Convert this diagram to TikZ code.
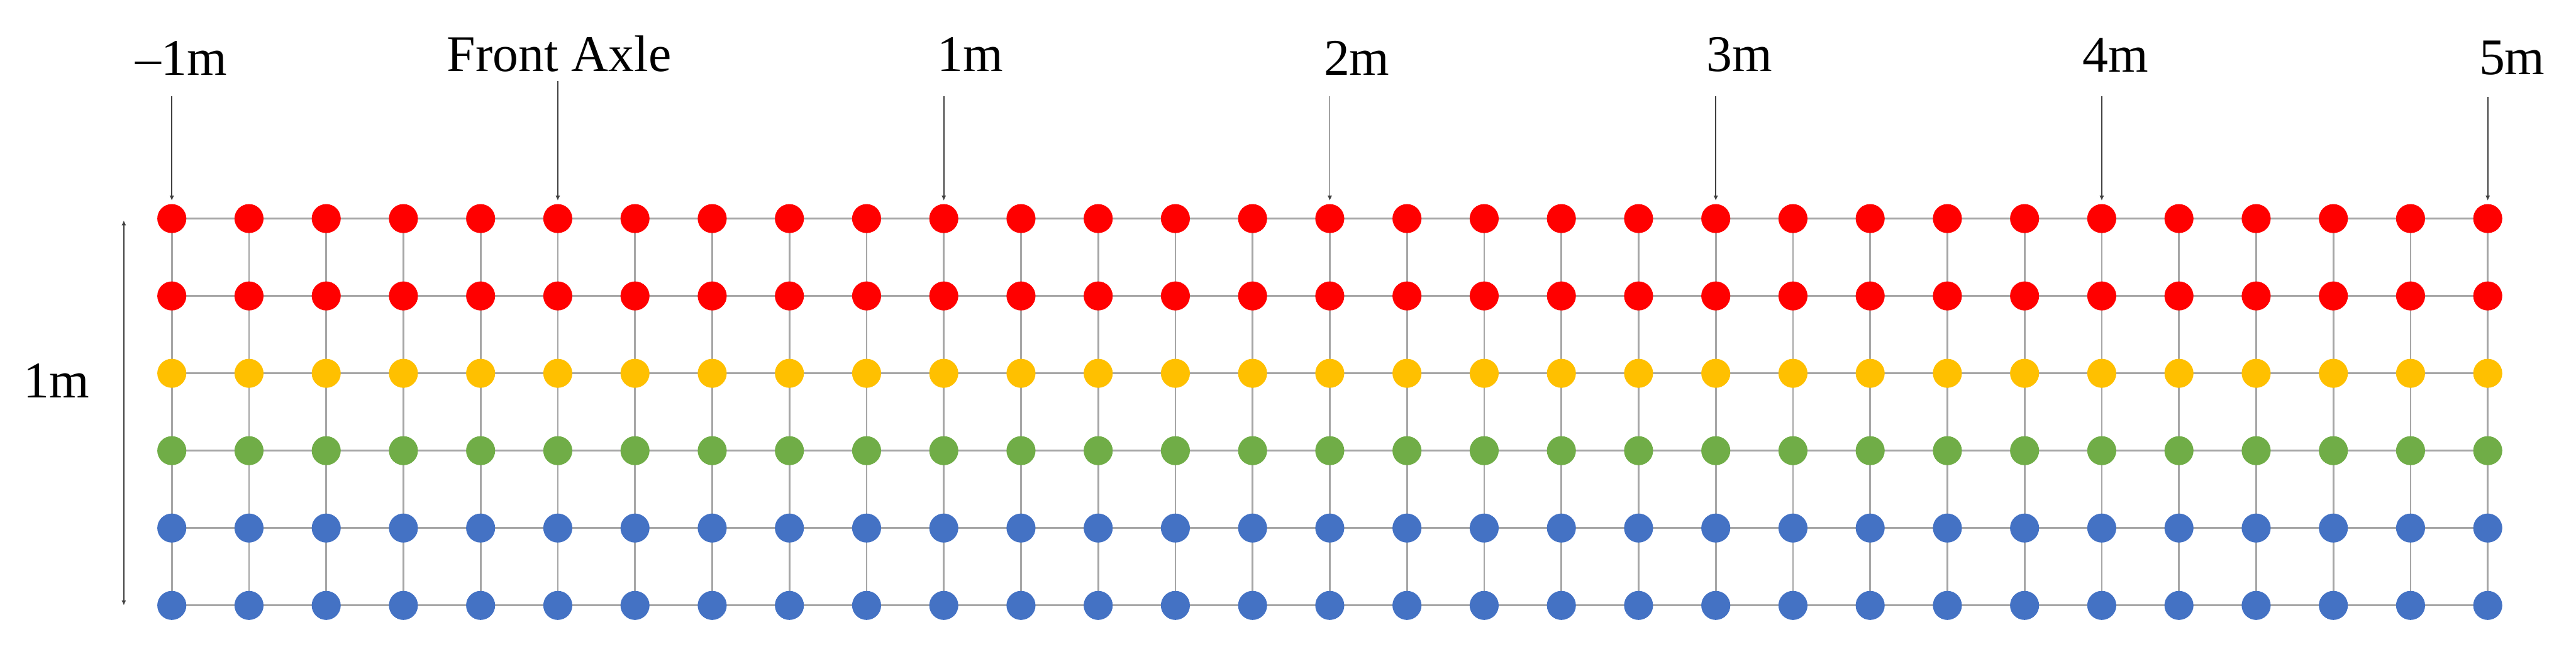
\documentclass[tikz,border=0pt]{standalone}
\usepackage{fontspec}
\setmainfont{Liberation Serif}
\usetikzlibrary{arrows.meta}
\definecolor{cred}{HTML}{FF0000}
\definecolor{cyellow}{HTML}{FFC000}
\definecolor{cgreen}{HTML}{70AD47}
\definecolor{cblue}{HTML}{4472C4}
\definecolor{gridgray}{HTML}{A6A6A6}
\definecolor{arrgray}{HTML}{404040}
\begin{document}
\begin{tikzpicture}[x=1cm,y=1cm,
  dot/.style={circle,inner sep=0pt,minimum size=0.49cm,draw=none},
  gridline/.style={draw=gridgray,line width=0.85pt},
  pointer/.style={draw=arrgray,line width=0.55pt,-{Latex[length=2.4pt,width=2.2pt]},shorten >=0.05cm},
  dimline/.style={draw=arrgray,line width=0.55pt,{Latex[length=2.4pt,width=2.2pt]}-{Latex[length=2.4pt,width=2.2pt]}},
  lab/.style={font=\fontsize{24.7}{29}\selectfont,anchor=base,inner sep=0pt}]
\useasboundingbox (0,0) rectangle (43.48,-11.12);
% grid positions
\foreach \i in {0,...,30}{
  \foreach \j in {0,...,5}{
    \coordinate (c-\i-\j) at ({(290+130.3*\i)/100},{-(369+130.6*\j)/100});
  }
}
% grid lines
\foreach \j in {0,...,5}{\draw[gridline] (c-0-\j) -- (c-30-\j);}
\foreach \i in {0,...,30}{\draw[gridline] (c-\i-0) -- (c-\i-5);}
% dots
\foreach \j/\col in {0/cred,1/cred,2/cyellow,3/cgreen,4/cblue,5/cblue}{
  \foreach \i in {0,...,30}{
    \node[dot,fill=\col] (d-\i-\j) at (c-\i-\j) {};
  }
}
% labels
\node[lab] (lneg) at (3.06,-1.27) {\textendash1m};
\node[lab] (lfront) at (9.44,-1.20) {Front Axle};
\node[lab] (lone) at (16.38,-1.21) {1m};
\node[lab] (ltwo) at (22.90,-1.27) {2m};
\node[lab] (lthree) at (29.36,-1.21) {3m};
\node[lab] (lfour) at (35.71,-1.22) {4m};
\node[lab] (lfive) at (42.40,-1.26) {5m};
\node[lab] (lside) at (0.95,-6.71) {1m};
% pointer arrows
\path (c-0-0) ++(0,2.07) coordinate (t0);
\path (c-5-0) ++(0,2.32) coordinate (t5);
\path (c-10-0) ++(0,2.07) coordinate (t10);
\path (c-15-0) ++(0,2.07) coordinate (t15);
\path (c-20-0) ++(0,2.07) coordinate (t20);
\path (c-25-0) ++(0,2.07) coordinate (t25);
\path (c-30-0) ++(0,2.05) coordinate (t30);
\foreach \k in {0,5,10,15,20,25,30}{\draw[pointer] (t\k) -- (d-\k-0);}
% vertical dimension
\coordinate (dimtop) at (2.09,-3.72);
\coordinate (dimbot) at (2.09,-10.22);
\draw[dimline] (dimtop) -- (dimbot);
\end{tikzpicture}
\end{document}
